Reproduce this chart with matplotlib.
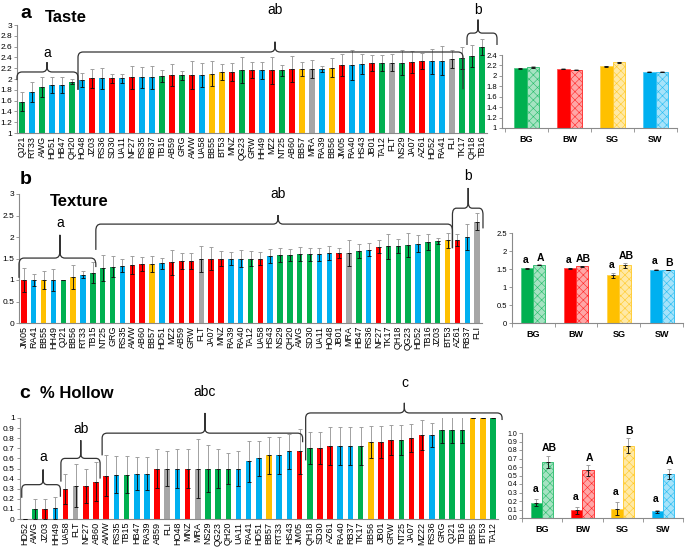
import numpy as np
import matplotlib
matplotlib.use("Agg")
import matplotlib.pyplot as plt
from matplotlib.path import Path
from matplotlib.patches import PathPatch
from matplotlib.colors import to_rgb

plt.rcParams['font.family'] = ['Liberation Sans', 'DejaVu Sans']
plt.rcParams['hatch.linewidth'] = 0.4

# ── DATA ──────────────────────────────────────────────────────────────────────
# colour codes: g = green, r = red, b = blue, y = yellow, k = grey

TASTE_NAMES = ["QJ21", "RT33", "AWG", "HD51", "HB47", "QH20", "HO48", "JZ03", "RS36", "SD30",
               "UA11", "NF27", "RS35", "RB37", "TB15", "AB59", "GRG", "AWW", "UA58", "BB55",
               "BT53", "MNZ", "QG23", "GRW", "HH49", "MZ2", "NT25", "AB60", "BB57", "MRA",
               "RA39", "BB56", "JM05", "RA40", "HS43", "JB01", "TA12", "FLT", "NS29", "JA07",
               "AZ61", "HD52", "RA41", "FLI", "TK17", "QH18", "TB16"]
TASTE_VALS = [1.58, 1.76, 1.85, 1.89, 1.89, 1.95, 1.98, 2.01, 2.01, 2.01,
              2.01, 2.03, 2.03, 2.03, 2.06, 2.07, 2.07, 2.07, 2.08, 2.10,
              2.13, 2.13, 2.16, 2.16, 2.16, 2.16, 2.16, 2.18, 2.18, 2.18,
              2.19, 2.21, 2.26, 2.26, 2.28, 2.29, 2.29, 2.30, 2.30, 2.31,
              2.33, 2.33, 2.34, 2.37, 2.39, 2.43, 2.60]
TASTE_ERRS = [0.18, 0.18, 0.19, 0.15, 0.15, 0.05, 0.13, 0.17, 0.19, 0.09,
              0.09, 0.22, 0.20, 0.21, 0.11, 0.20, 0.08, 0.26, 0.22, 0.23,
              0.14, 0.17, 0.24, 0.15, 0.16, 0.25, 0.10, 0.24, 0.13, 0.17,
              0.06, 0.18, 0.20, 0.27, 0.18, 0.15, 0.15, 0.16, 0.23, 0.20,
              0.15, 0.23, 0.27, 0.17, 0.20, 0.20, 0.15]
TASTE_COLS = list("gbgbbgbrbrbrbbgrgrbyyrgrbrgrykbyrbbrgkgrrbbkggg")

TEXTURE_NAMES = ["JM05", "RA41", "BB55", "HH49", "QJ21", "BB56", "RT33", "TB15", "NT25", "GRG",
                 "RS35", "AWW", "AB60", "BB57", "HD51", "MZ2", "AB59", "GRW", "FLT", "JA07",
                 "MNZ", "RA39", "RA40", "TA12", "UA58", "HS43", "NS29", "QH20", "AWG", "SD30",
                 "UA11", "HO48", "JB01", "MRA", "HB47", "RS36", "NF27", "TK17", "QH18", "QG23",
                 "HD52", "TB16", "JZ03", "BT53", "AZ61", "RB37", "FLI"]
TEXTURE_VALS = [1.00, 1.00, 1.00, 1.00, 1.00, 1.06, 1.12, 1.17, 1.27, 1.31,
                1.33, 1.35, 1.37, 1.37, 1.39, 1.41, 1.44, 1.44, 1.49, 1.50,
                1.50, 1.50, 1.50, 1.50, 1.50, 1.56, 1.58, 1.58, 1.60, 1.60,
                1.60, 1.63, 1.63, 1.63, 1.67, 1.70, 1.77, 1.78, 1.79, 1.81,
                1.84, 1.88, 1.91, 1.92, 1.93, 2.00, 2.36]
TEXTURE_ERRS = [0.27, 0.15, 0.21, 0.25, 0.00, 0.28, 0.08, 0.25, 0.30, 0.25,
                0.15, 0.20, 0.16, 0.18, 0.13, 0.29, 0.18, 0.18, 0.31, 0.26,
                0.17, 0.14, 0.19, 0.18, 0.14, 0.17, 0.17, 0.13, 0.16, 0.15,
                0.15, 0.16, 0.12, 0.30, 0.16, 0.15, 0.15, 0.30, 0.17, 0.28,
                0.20, 0.18, 0.07, 0.18, 0.14, 0.30, 0.20]
TEXTURE_COLS = list("rbybgybgggbrrybrrrkrrbbgrbggggbbrkgbrgggbggyrbk")

HOLLOW_NAMES = ["HD52", "AWG", "JZ03", "HH49", "UA58", "FLT", "NF27", "AB60", "AWW", "RS35",
                "TB15", "HB47", "RA39", "AB59", "FLI", "HO48", "MNZ", "MRA", "NS29", "QG23",
                "QH20", "UA11", "RA41", "HD51", "BB57", "RT33", "HS43", "JM05", "QH18", "SD30",
                "AZ61", "RA40", "RB37", "TK17", "BB56", "JB01", "GRW", "NT25", "JA07", "MZ22",
                "RS36", "GRG", "QJ21", "TB16", "BB55", "BT53", "TA12"]
HOLLOW_VALS = [0.00, 0.10, 0.10, 0.11, 0.30, 0.33, 0.33, 0.37, 0.43, 0.44,
               0.44, 0.45, 0.45, 0.50, 0.50, 0.50, 0.50, 0.50, 0.50, 0.50,
               0.50, 0.50, 0.57, 0.60, 0.63, 0.63, 0.67, 0.67, 0.70, 0.70,
               0.72, 0.72, 0.72, 0.72, 0.76, 0.76, 0.78, 0.78, 0.80, 0.83,
               0.83, 0.88, 0.88, 0.88, 1.00, 1.00, 1.00]
HOLLOW_ERRS = [0.00, 0.10, 0.10, 0.11, 0.15, 0.21, 0.17, 0.19, 0.20, 0.18,
               0.18, 0.16, 0.16, 0.19, 0.17, 0.19, 0.19, 0.29, 0.23, 0.19,
               0.15, 0.17, 0.20, 0.17, 0.18, 0.18, 0.17, 0.22, 0.16, 0.16,
               0.19, 0.19, 0.19, 0.19, 0.16, 0.16, 0.15, 0.15, 0.14, 0.15,
               0.12, 0.13, 0.13, 0.13, 0.00, 0.00, 0.00]
HOLLOW_COLS = list("bgrbrkrrrbgbbrkbrkgggbbbybbrgrrbbgyrrgrrbgggyyg")

GROUPS = ["BG", "BW", "SG", "SW"]
GROUP_COLS = ["g", "r", "y", "b"]
TASTE_GRP_SOLID = [2.15, 2.14, 2.18, 2.08]
TASTE_GRP_HATCH = [2.17, 2.12, 2.26, 2.08]
TASTE_GRP_SOLID_ERR = [0.01, 0.01, 0.01, 0.01]
TASTE_GRP_HATCH_ERR = [0.01, 0.01, 0.01, 0.01]
TEXTURE_GRP_SOLID = [1.52, 1.52, 1.33, 1.48]
TEXTURE_GRP_HATCH = [1.62, 1.57, 1.60, 1.47]
TEXTURE_GRP_SOLID_ERR = [0.02, 0.02, 0.07, 0.01]
TEXTURE_GRP_HATCH_ERR = [0.01, 0.01, 0.06, 0.01]
TEXTURE_GRP_SOLID_LET = ["a", "a", "a", "a"]
TEXTURE_GRP_HATCH_LET = ["A", "AB", "AB", "B"]
HOLLOW_GRP_SOLID = [0.18, 0.09, 0.11, 0.08]
HOLLOW_GRP_HATCH = [0.66, 0.56, 0.85, 0.52]
HOLLOW_GRP_SOLID_ERR = [0.04, 0.04, 0.08, 0.02]
HOLLOW_GRP_HATCH_ERR = [0.07, 0.06, 0.09, 0.06]
HOLLOW_GRP_SOLID_LET = ["a", "a", "a", "a"]
HOLLOW_GRP_HATCH_LET = ["AB", "A", "B", "A"]

PALETTE = {"g": "#00B050", "r": "#FF0000", "b": "#00B0F0", "y": "#FFC000", "k": "#A6A6A6"}
AXIS_GREY = "#8a8a8a"
W, H = 685, 547


# ── HELPERS ───────────────────────────────────────────────────────────────────

def px_axes(fig, left, top, right, bottom):
    # axes placed by pixel box of the reference picture
    return fig.add_axes([left / W, 1 - bottom / H, (right - left) / W, (bottom - top) / H])


def style_axes(ax, ysize=6):
    for s in ["top", "right"]:
        ax.spines[s].set_visible(False)
    for s in ["left", "bottom"]:
        ax.spines[s].set_color(AXIS_GREY)
        ax.spines[s].set_linewidth(0.8)
    ax.tick_params(axis="y", labelsize=ysize, length=2, width=0.6, color=AXIS_GREY, pad=1.5)


def draw_errs(ax, x, vals, errs, width=1.3):
    vals = np.asarray(vals)
    errs = np.asarray(errs)
    zero = np.zeros_like(errs)
    # upper half shows grey on white, lower half black over the bar
    ax.errorbar(x, vals, yerr=[zero, errs], fmt="none", ecolor="#9a9a9a",
                elinewidth=0.65, capsize=width, capthick=0.65, zorder=3)
    ax.errorbar(x, vals, yerr=[errs, zero], fmt="none", ecolor="#111111",
                elinewidth=0.65, capsize=width, capthick=0.65, zorder=3)


def main_panel(ax, names, vals, errs, cols, ylim, yticks):
    x = np.arange(len(names))
    ax.bar(x, vals, 0.55, color=[PALETTE[c] for c in cols], zorder=2)
    draw_errs(ax, x, vals, errs)
    ax.set_xlim(-0.5, len(names) - 0.5)
    ax.set_ylim(*ylim)
    ax.set_yticks(yticks)
    ax.set_yticklabels([f"{t:g}" for t in yticks])
    ax.set_xticks(x)
    ax.set_xticklabels(names, rotation=90, fontsize=6.5)
    ax.tick_params(axis="x", length=0, pad=2)
    style_axes(ax)


def brace(ax, x0, x1, xm, y, ypk, yl0, yl1, ylab, label, rx=0.5, fs=10):
    span = ax.get_ylim()[1] - ax.get_ylim()[0]
    dy = 0.05 * span
    verts = [(x0, yl0), (x0, y - dy), (x0, y), (x0 + rx, y),
             (xm - rx, y), (xm, y), (xm, y + dy), (xm, ypk),
             (xm, y + dy), (xm, y), (xm + rx, y),
             (x1 - rx, y), (x1, y), (x1, y - dy), (x1, yl1)]
    codes = [Path.MOVETO, Path.LINETO, Path.CURVE3, Path.CURVE3,
             Path.LINETO, Path.CURVE3, Path.CURVE3, Path.LINETO,
             Path.LINETO, Path.CURVE3, Path.CURVE3,
             Path.LINETO, Path.CURVE3, Path.CURVE3, Path.LINETO]
    patch = PathPatch(Path(verts, codes), fill=False, edgecolor="#333333",
                      linewidth=0.9, clip_on=False, zorder=4)
    ax.add_patch(patch)
    ax.text(xm, ylab, label, ha="center", va="center", fontsize=fs, clip_on=False)


def lighten(c, f=0.55):
    r, g, b = to_rgb(c)
    return (r + (1 - r) * f, g + (1 - g) * f, b + (1 - b) * f)


def group_panel(ax, solid, hatch, serr, herr, ylim, yticks, fmt, xlim,
                slet=None, hlet=None, spad=0.0, hpad=0.0):
    x = np.arange(len(GROUPS))
    bw = 0.28
    for i, c in enumerate(GROUP_COLS):
        col = PALETTE[c]
        ax.bar(x[i] - bw / 2, solid[i], bw, color=col, edgecolor=lighten(col, 0.3),
               linewidth=0.6, zorder=2)
        ax.bar(x[i] + bw / 2, hatch[i], bw, facecolor=lighten(col, 0.65),
               edgecolor=lighten(col, 0.15), hatch="xxxx", linewidth=0.6, zorder=2)
    draw_errs(ax, x - bw / 2, solid, serr, width=1.2)
    draw_errs(ax, x + bw / 2, hatch, herr, width=1.2)
    if slet is not None:
        for i in range(len(GROUPS)):
            ax.text(x[i] - bw / 2 - 0.03, solid[i] + serr[i] + spad, slet[i], ha="center",
                    va="bottom", fontsize=7.5, fontweight="bold")
            ax.text(x[i] + bw / 2 + 0.03, hatch[i] + herr[i] + hpad, hlet[i], ha="center",
                    va="bottom", fontsize=7.5, fontweight="bold")
    ax.set_xlim(*xlim)
    ax.set_ylim(*ylim)
    ax.set_yticks(yticks)
    ax.set_yticklabels([fmt.format(t) for t in yticks])
    ax.set_xticks(x)
    ax.set_xticklabels(GROUPS, fontsize=6.5, fontweight="bold")
    ax.set_xticks(np.arange(len(GROUPS) + 1) - 0.5, minor=True)
    ax.tick_params(axis="x", which="major", length=0, pad=5)
    ax.tick_params(axis="x", which="minor", length=3, width=0.6, color=AXIS_GREY)
    style_axes(ax, ysize=5.5)


# ── FIGURE ────────────────────────────────────────────────────────────────────

fig = plt.figure(figsize=(W / 100, H / 100), dpi=100)

# panel a: taste
ax_a = px_axes(fig, 17, 25, 487, 133)
main_panel(ax_a, TASTE_NAMES, TASTE_VALS, TASTE_ERRS, TASTE_COLS,
           (1, 3), np.round(np.arange(1, 3.01, 0.2), 1))
brace(ax_a, -0.5, 5.6, 2.5, 2.13, 2.31, 1.98, 1.80, 2.48, "a")
brace(ax_a, 5.6, 44.1, 25.3, 2.50, 2.69, 1.80, 1.81, 3.28, "ab")
brace(ax_a, 44.5, 47.5, 45.6, 2.85, 3.10, 2.63, 2.63, 3.27, "b", rx=0.4)
fig.text(20 / W, 1 - 13 / H, "a", fontsize=14, fontweight="bold", va="center")
fig.text(45 / W, 1 - 18 / H, "Taste", fontsize=12, fontweight="bold", va="center")

ax_a2 = px_axes(fig, 502, 55, 677, 128)
group_panel(ax_a2, TASTE_GRP_SOLID, TASTE_GRP_HATCH, TASTE_GRP_SOLID_ERR,
            TASTE_GRP_HATCH_ERR, (1, 2.4), np.round(np.arange(1, 2.41, 0.2), 1),
            "{:g}", (-0.57, 3.4))

# panel b: texture
ax_b = px_axes(fig, 19, 194, 482, 323)
main_panel(ax_b, TEXTURE_NAMES, TEXTURE_VALS, TEXTURE_ERRS, TEXTURE_COLS,
           (0, 3), np.arange(0, 3.01, 0.5))
brace(ax_b, -0.5, 7.3, 3.65, 1.51, 2.05, 1.05, 1.30, 2.33, "a")
brace(ax_b, 7.3, 43.5, 25.8, 2.30, 2.51, 1.70, 1.74, 3.0, "ab")
brace(ax_b, 43.5, 46.6, 45.1, 2.67, 3.14, 1.74, 2.20, 3.42, "b", rx=0.4)
fig.text(20 / W, 1 - 180 / H, "b", fontsize=14, fontweight="bold", va="center")
fig.text(50 / W, 1 - 202 / H, "Texture", fontsize=12, fontweight="bold", va="center")

ax_b2 = px_axes(fig, 512, 233, 683, 323)
group_panel(ax_b2, TEXTURE_GRP_SOLID, TEXTURE_GRP_HATCH, TEXTURE_GRP_SOLID_ERR,
            TEXTURE_GRP_HATCH_ERR, (0, 2.5), np.arange(0, 2.51, 0.5), "{:g}",
            (-0.47, 3.33), TEXTURE_GRP_SOLID_LET, TEXTURE_GRP_HATCH_LET, 0.08, 0.05)

# panel c: % hollow
ax_c = px_axes(fig, 19.7, 418, 498, 519)
main_panel(ax_c, HOLLOW_NAMES, HOLLOW_VALS, HOLLOW_ERRS, HOLLOW_COLS,
           (0, 1), np.round(np.arange(0, 1.01, 0.1), 1))
brace(ax_c, -0.3, 3.5, 1.8, 0.34, 0.49, 0.21, 0.22, 0.61, "a", rx=0.4)
brace(ax_c, 3.55, 7.4, 5.5, 0.60, 0.78, 0.37, 0.40, 0.89, "ab", rx=0.4)
brace(ax_c, 7.6, 27.3, 17.7, 0.85, 1.05, 0.63, 0.76, 1.26, "abc")
brace(ax_c, 27.6, 46.9, 37.3, 1.05, 1.15, 0.58, 0.98, 1.35, "c")
fig.text(19 / W, 1 - 394 / H, "c", fontsize=14, fontweight="bold", va="center")
fig.text(40 / W, 1 - 394 / H, "% Hollow", fontsize=12, fontweight="bold", va="center")

ax_c2 = px_axes(fig, 522, 433, 683, 518)
group_panel(ax_c2, HOLLOW_GRP_SOLID, HOLLOW_GRP_HATCH, HOLLOW_GRP_SOLID_ERR,
            HOLLOW_GRP_HATCH_ERR, (0, 1), np.round(np.arange(0, 1.01, 0.1), 1),
            "{:.1f}", (-0.36, 3.5), HOLLOW_GRP_SOLID_LET, HOLLOW_GRP_HATCH_LET, 0.06, 0.03)
ax_c2.tick_params(axis="y", labelsize=5)

fig.savefig("out.png", dpi=100)
